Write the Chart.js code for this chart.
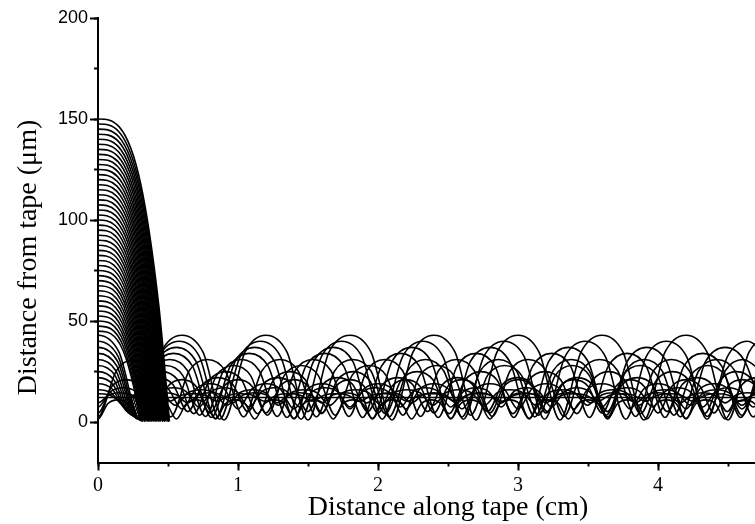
<!DOCTYPE html>
<html><head><meta charset="utf-8">
<script src="https://cdn.jsdelivr.net/npm/chart.js@4.4.1/dist/chart.umd.min.js"></script>
<style>
html,body{margin:0;padding:0;background:#fff;overflow:hidden;width:755px;height:524px}
#wrap{position:absolute;left:0;top:0;width:810px;height:524px}
</style>
</head><body><div id="wrap"><canvas id="c" width="810" height="524"></canvas></div>
<script>
// ---------- text ----------
const xTitle = 'Distance along tape (cm)';
const yTitle = 'Distance from tape (\u03bcm)';
const xTickValues = [0, 1, 2, 3, 4];
const yTickValues = [0, 50, 100, 150, 200];

// ---------- lost trajectories (fall onto the tape before 0.52 cm) ----------
const lostX = [
[-0.09,0,0.09,0.18,0.255,0.3],
[-0.092,0,0.092,0.183,0.259,0.305],
[-0.093,0,0.093,0.186,0.264,0.31],
[-0.095,0,0.095,0.189,0.268,0.315],
[-0.096,0,0.096,0.192,0.272,0.32],
[-0.098,0,0.098,0.195,0.276,0.325],
[-0.099,0,0.099,0.198,0.281,0.33],
[-0.101,0,0.101,0.201,0.285,0.335],
[-0.102,0,0.102,0.204,0.289,0.34],
[-0.104,0,0.104,0.207,0.293,0.345],
[-0.105,0,0.105,0.21,0.298,0.35],
[-0.107,0,0.107,0.213,0.302,0.355],
[-0.108,0,0.108,0.216,0.306,0.36],
[-0.11,0,0.11,0.219,0.31,0.365],
[-0.111,0,0.111,0.222,0.315,0.37],
[-0.113,0,0.113,0.225,0.319,0.375],
[-0.114,0,0.114,0.228,0.323,0.38],
[-0.116,0,0.116,0.231,0.327,0.385],
[-0.117,0,0.117,0.234,0.332,0.39],
[-0.119,0,0.119,0.237,0.336,0.395],
[-0.12,0,0.12,0.24,0.34,0.4],
[-0.122,0,0.122,0.243,0.344,0.405],
[-0.123,0,0.123,0.246,0.349,0.41],
[-0.125,0,0.125,0.249,0.353,0.415],
[-0.126,0,0.126,0.252,0.357,0.42],
[-0.128,0,0.128,0.255,0.361,0.425],
[-0.129,0,0.129,0.258,0.366,0.43],
[-0.131,0,0.131,0.261,0.37,0.435],
[-0.132,0,0.132,0.264,0.374,0.44],
[-0.134,0,0.134,0.267,0.378,0.445],
[-0.135,0,0.135,0.27,0.383,0.45],
[-0.137,0,0.137,0.273,0.387,0.455],
[-0.138,0,0.138,0.276,0.391,0.46],
[-0.14,0,0.14,0.279,0.395,0.465],
[-0.141,0,0.141,0.282,0.4,0.47],
[-0.143,0,0.143,0.285,0.404,0.475],
[-0.144,0,0.144,0.288,0.408,0.48],
[-0.146,0,0.146,0.291,0.412,0.485],
[-0.147,0,0.147,0.294,0.417,0.49],
[-0.149,0,0.149,0.297,0.421,0.495],
[-0.15,0,0.15,0.3,0.425,0.5],
[-0.152,0,0.152,0.303,0.429,0.505],
[-0.153,0,0.153,0.306,0.434,0.51]
];
const lostY = [
[43.8,45,43.8,35.3,17.4,0.8],
[46.2,47.5,46.2,37.2,18.3,1.2],
[48.7,50,48.7,39.2,19.3,0.6],
[51.1,52.5,51.1,41.2,20.3,1],
[53.5,55,53.5,43.1,21.2,0.5],
[55.9,57.5,55.9,45.1,22.2,1.3],
[58.4,60,58.4,47,23.2,0.8],
[60.8,62.5,60.8,49,24.1,0.4],
[63.2,65,63.2,51,25.1,1.1],
[65.7,67.5,65.7,52.9,26.1,0.7],
[68.1,70,68.1,54.9,27,1.4],
[70.5,72.5,70.5,56.8,28,0.6],
[73,75,73,58.8,29,0.9],
[75.4,77.5,75.4,60.8,29.9,0.4],
[77.8,80,77.8,62.7,30.9,1.2],
[80.3,82.5,80.3,64.7,31.8,0.8],
[82.7,85,82.7,66.6,32.8,0.5],
[85.1,87.5,85.1,68.6,33.8,1.3],
[87.6,90,87.6,70.6,34.7,0.7],
[90,92.5,90,72.5,35.7,1],
[92.4,95,92.4,74.5,36.7,0.4],
[94.9,97.5,94.9,76.4,37.6,1.1],
[97.3,100,97.3,78.4,38.6,0.8],
[99.7,102.5,99.7,80.4,39.6,0.5],
[102.2,105,102.2,82.3,40.5,1.4],
[104.6,107.5,104.6,84.3,41.5,0.7],
[107,110,107,86.2,42.5,1],
[109.5,112.5,109.5,88.2,43.4,0.4],
[111.9,115,111.9,90.2,44.4,1.2],
[114.3,117.5,114.3,92.1,45.4,0.6],
[116.8,120,116.8,94.1,46.3,0.9],
[119.2,122.5,119.2,96,47.3,1.3],
[121.6,125,121.6,98,48.3,0.5],
[124.1,127.5,124.1,100,49.2,0.8],
[126.5,130,126.5,101.9,50.2,1.1],
[128.9,132.5,128.9,103.9,51.1,0.4],
[131.4,135,131.4,105.8,52.1,1],
[133.8,137.5,133.8,107.8,53.1,0.7],
[136.2,140,136.2,109.8,54,1.3],
[138.7,142.5,138.7,111.7,55,0.6],
[141.1,145,141.1,113.7,56,0.9],
[143.5,147.5,143.5,115.6,56.9,0.5],
[146,150,146,117.6,57.9,0.8]
];

// ---------- trapped trajectories starting at their upper turning point ----------
const trapX = [
[-0.15,0,0.15,0.3,0.45,0.6,0.75,0.9,1.05,1.2,1.35,1.5,1.65,1.8,1.95,2.1,2.25,2.4,2.55,2.7,2.85,3,3.15,3.3,3.45,3.6,3.75,3.9,4.05,4.2,4.35,4.5,4.65,4.8],
[-0.145,0,0.145,0.29,0.435,0.58,0.725,0.87,1.015,1.16,1.305,1.45,1.595,1.74,1.885,2.03,2.175,2.32,2.465,2.61,2.755,2.9,3.045,3.19,3.335,3.48,3.625,3.77,3.915,4.06,4.205,4.35,4.495,4.64,4.785],
[-0.14,0,0.14,0.28,0.42,0.56,0.7,0.84,0.98,1.12,1.26,1.4,1.54,1.68,1.82,1.96,2.1,2.24,2.38,2.52,2.66,2.8,2.94,3.08,3.22,3.36,3.5,3.64,3.78,3.92,4.06,4.2,4.34,4.48,4.62,4.76],
[-0.135,0,0.135,0.27,0.405,0.54,0.675,0.81,0.945,1.08,1.215,1.35,1.485,1.62,1.755,1.89,2.025,2.16,2.295,2.43,2.565,2.7,2.835,2.97,3.105,3.24,3.375,3.51,3.645,3.78,3.915,4.05,4.185,4.32,4.455,4.59,4.725],
[-0.128,0,0.128,0.256,0.384,0.512,0.64,0.768,0.896,1.024,1.152,1.28,1.408,1.536,1.664,1.792,1.92,2.048,2.176,2.304,2.432,2.56,2.688,2.816,2.944,3.072,3.2,3.328,3.456,3.584,3.712,3.84,3.968,4.096,4.224,4.352,4.48,4.608,4.736],
[-0.121,0,0.121,0.242,0.363,0.484,0.605,0.726,0.847,0.968,1.089,1.21,1.331,1.452,1.573,1.694,1.815,1.936,2.057,2.178,2.299,2.42,2.541,2.662,2.783,2.904,3.025,3.146,3.267,3.388,3.509,3.63,3.751,3.872,3.993,4.114,4.235,4.356,4.477,4.598,4.719],
[-0.114,0,0.114,0.228,0.342,0.456,0.57,0.684,0.798,0.912,1.026,1.14,1.254,1.368,1.482,1.596,1.71,1.824,1.938,2.052,2.166,2.28,2.394,2.508,2.622,2.736,2.85,2.964,3.078,3.192,3.306,3.42,3.534,3.648,3.762,3.876,3.99,4.104,4.218,4.332,4.446,4.56,4.674,4.788],
[-0.107,0,0.107,0.214,0.321,0.428,0.535,0.642,0.749,0.856,0.963,1.07,1.177,1.284,1.391,1.498,1.605,1.712,1.819,1.926,2.033,2.14,2.247,2.354,2.461,2.568,2.675,2.782,2.889,2.996,3.103,3.21,3.317,3.424,3.531,3.638,3.745,3.852,3.959,4.066,4.173,4.28,4.387,4.494,4.601,4.708,4.815],
[-0.1,0,0.1,0.2,0.3,0.4,0.5,0.6,0.7,0.8,0.9,1,1.1,1.2,1.3,1.4,1.5,1.6,1.7,1.8,1.9,2,2.1,2.2,2.3,2.4,2.5,2.6,2.7,2.8,2.9,3,3.1,3.2,3.3,3.4,3.5,3.6,3.7,3.8,3.9,4,4.1,4.2,4.3,4.4,4.5,4.6,4.7,4.8],
[-0.092,0,0.092,0.184,0.276,0.368,0.46,0.552,0.644,0.736,0.828,0.92,1.012,1.104,1.196,1.288,1.38,1.472,1.564,1.656,1.748,1.84,1.932,2.024,2.116,2.208,2.3,2.392,2.484,2.576,2.668,2.76,2.852,2.944,3.036,3.128,3.22,3.312,3.404,3.496,3.588,3.68,3.772,3.864,3.956,4.048,4.14,4.232,4.324,4.416,4.508,4.6,4.692,4.784],
[-0.085,0,0.085,0.17,0.255,0.34,0.425,0.51,0.595,0.68,0.765,0.85,0.935,1.02,1.105,1.19,1.275,1.36,1.445,1.53,1.615,1.7,1.785,1.87,1.955,2.04,2.125,2.21,2.295,2.38,2.465,2.55,2.635,2.72,2.805,2.89,2.975,3.06,3.145,3.23,3.315,3.4,3.485,3.57,3.655,3.74,3.825,3.91,3.995,4.08,4.165,4.25,4.335,4.42,4.505,4.59,4.675,4.76]
];
const trapY = [
[34.6, 43,34.6,1,34.6, 43,34.6,1,34.6, 43,34.6,1,34.6, 43,34.6,1,34.6, 43,34.6,1,34.6, 43,34.6,1,34.6, 43,34.6,1,34.6, 43,34.6,1,34.6, 43],
[32.3, 40,32.3,1.4,32.3, 40,32.3,1.4,32.3, 40,32.3,1.4,32.3, 40,32.3,1.4,32.3, 40,32.3,1.4,32.3, 40,32.3,1.4,32.3, 40,32.3,1.4,32.3, 40,32.3,1.4,32.3, 40,32.3],
[30, 37,30,1.8,30, 37,30,1.8,30, 37,30,1.8,30, 37,30,1.8,30, 37,30,1.8,30, 37,30,1.8,30, 37,30,1.8,30, 37,30,1.8,30, 37,30,1.8],
[27.7, 34,27.7,2.3,27.7, 34,27.7,2.3,27.7, 34,27.7,2.3,27.7, 34,27.7,2.3,27.7, 34,27.7,2.3,27.7, 34,27.7,2.3,27.7, 34,27.7,2.3,27.7, 34,27.7,2.3,27.7, 34,27.7,2.3,27.7],
[25.4, 31,25.4,2.8,25.4, 31,25.4,2.8,25.4, 31,25.4,2.8,25.4, 31,25.4,2.8,25.4, 31,25.4,2.8,25.4, 31,25.4,2.8,25.4, 31,25.4,2.8,25.4, 31,25.4,2.8,25.4, 31,25.4,2.8,25.4, 31,25.4],
[23.1, 28,23.1,3.4,23.1, 28,23.1,3.4,23.1, 28,23.1,3.4,23.1, 28,23.1,3.4,23.1, 28,23.1,3.4,23.1, 28,23.1,3.4,23.1, 28,23.1,3.4,23.1, 28,23.1,3.4,23.1, 28,23.1,3.4,23.1, 28,23.1,3.4,23.1],
[20.8, 25,20.8,4.2,20.8, 25,20.8,4.2,20.8, 25,20.8,4.2,20.8, 25,20.8,4.2,20.8, 25,20.8,4.2,20.8, 25,20.8,4.2,20.8, 25,20.8,4.2,20.8, 25,20.8,4.2,20.8, 25,20.8,4.2,20.8, 25,20.8,4.2,20.8, 25,20.8,4.2],
[18.6, 22,18.6,5.2,18.6, 22,18.6,5.2,18.6, 22,18.6,5.2,18.6, 22,18.6,5.2,18.6, 22,18.6,5.2,18.6, 22,18.6,5.2,18.6, 22,18.6,5.2,18.6, 22,18.6,5.2,18.6, 22,18.6,5.2,18.6, 22,18.6,5.2,18.6, 22,18.6,5.2,18.6, 22,18.6],
[16.5, 19,16.5,6.5,16.5, 19,16.5,6.5,16.5, 19,16.5,6.5,16.5, 19,16.5,6.5,16.5, 19,16.5,6.5,16.5, 19,16.5,6.5,16.5, 19,16.5,6.5,16.5, 19,16.5,6.5,16.5, 19,16.5,6.5,16.5, 19,16.5,6.5,16.5, 19,16.5,6.5,16.5, 19,16.5,6.5,16.5, 19],
[14.5, 16,14.5,8.3,14.5, 16,14.5,8.3,14.5, 16,14.5,8.3,14.5, 16,14.5,8.3,14.5, 16,14.5,8.3,14.5, 16,14.5,8.3,14.5, 16,14.5,8.3,14.5, 16,14.5,8.3,14.5, 16,14.5,8.3,14.5, 16,14.5,8.3,14.5, 16,14.5,8.3,14.5, 16,14.5,8.3,14.5, 16,14.5,8.3,14.5, 16],
[13.3, 14,13.3,10.3,13.3, 14,13.3,10.3,13.3, 14,13.3,10.3,13.3, 14,13.3,10.3,13.3, 14,13.3,10.3,13.3, 14,13.3,10.3,13.3, 14,13.3,10.3,13.3, 14,13.3,10.3,13.3, 14,13.3,10.3,13.3, 14,13.3,10.3,13.3, 14,13.3,10.3,13.3, 14,13.3,10.3,13.3, 14,13.3,10.3,13.3, 14,13.3,10.3,13.3, 14]
];

// ---------- trapped trajectories starting at their lower turning point ----------
const bounceX = [
[-0.07,0,0.07,0.14,0.21,0.28,0.35,0.42,0.49,0.56,0.63,0.7,0.77,0.84,0.91,0.98,1.05,1.12,1.19,1.26,1.33,1.4,1.47,1.54,1.61,1.68,1.75,1.82,1.89,1.96,2.03,2.1,2.17,2.24,2.31,2.38,2.45,2.52,2.59,2.66,2.73,2.8,2.87,2.94,3.01,3.08,3.15,3.22,3.29,3.36,3.43,3.5,3.57,3.64,3.71,3.78,3.85,3.92,3.99,4.06,4.13,4.2,4.27,4.34,4.41,4.48,4.55,4.62,4.69,4.76],
[-0.13,0,0.13,0.26,0.39,0.52,0.65,0.78,0.91,1.04,1.17,1.3,1.43,1.56,1.69,1.82,1.95,2.08,2.21,2.34,2.47,2.6,2.73,2.86,2.99,3.12,3.25,3.38,3.51,3.64,3.77,3.9,4.03,4.16,4.29,4.42,4.55,4.68,4.81],
[-0.1,0,0.1,0.2,0.3,0.4,0.5,0.6,0.7,0.8,0.9,1,1.1,1.2,1.3,1.4,1.5,1.6,1.7,1.8,1.9,2,2.1,2.2,2.3,2.4,2.5,2.6,2.7,2.8,2.9,3,3.1,3.2,3.3,3.4,3.5,3.6,3.7,3.8,3.9,4,4.1,4.2,4.3,4.4,4.5,4.6,4.7,4.8],
[-0.09,0,0.09,0.18,0.27,0.36,0.45,0.54,0.63,0.72,0.81,0.9,0.99,1.08,1.17,1.26,1.35,1.44,1.53,1.62,1.71,1.8,1.89,1.98,2.07,2.16,2.25,2.34,2.43,2.52,2.61,2.7,2.79,2.88,2.97,3.06,3.15,3.24,3.33,3.42,3.51,3.6,3.69,3.78,3.87,3.96,4.05,4.14,4.23,4.32,4.41,4.5,4.59,4.68,4.77],
[-0.08,0,0.08,0.16,0.24,0.32,0.4,0.48,0.56,0.64,0.72,0.8,0.88,0.96,1.04,1.12,1.2,1.28,1.36,1.44,1.52,1.6,1.68,1.76,1.84,1.92,2,2.08,2.16,2.24,2.32,2.4,2.48,2.56,2.64,2.72,2.8,2.88,2.96,3.04,3.12,3.2,3.28,3.36,3.44,3.52,3.6,3.68,3.76,3.84,3.92,4,4.08,4.16,4.24,4.32,4.4,4.48,4.56,4.64,4.72,4.8]
];
const bounceY = [
[9.1, 1.5,9.1,11,9.1, 1.5,9.1,11,9.1, 1.5,9.1,11,9.1, 1.5,9.1,11,9.1, 1.5,9.1,11,9.1, 1.5,9.1,11,9.1, 1.5,9.1,11,9.1, 1.5,9.1,11,9.1, 1.5,9.1,11,9.1, 1.5,9.1,11,9.1, 1.5,9.1,11,9.1, 1.5,9.1,11,9.1, 1.5,9.1,11,9.1, 1.5,9.1,11,9.1, 1.5,9.1,11,9.1, 1.5,9.1,11,9.1, 1.5,9.1,11,9.1, 1.5],
[25.3, 2.6,25.3,31,25.3, 2.6,25.3,31,25.3, 2.6,25.3,31,25.3, 2.6,25.3,31,25.3, 2.6,25.3,31,25.3, 2.6,25.3,31,25.3, 2.6,25.3,31,25.3, 2.6,25.3,31,25.3, 2.6,25.3,31,25.3, 2.6,25.3],
[17.7, 4.5,17.7,21,17.7, 4.5,17.7,21,17.7, 4.5,17.7,21,17.7, 4.5,17.7,21,17.7, 4.5,17.7,21,17.7, 4.5,17.7,21,17.7, 4.5,17.7,21,17.7, 4.5,17.7,21,17.7, 4.5,17.7,21,17.7, 4.5,17.7,21,17.7, 4.5,17.7,21,17.7, 4.5,17.7,21,17.7, 4.5],
[15.1, 7.5,15.1,17,15.1, 7.5,15.1,17,15.1, 7.5,15.1,17,15.1, 7.5,15.1,17,15.1, 7.5,15.1,17,15.1, 7.5,15.1,17,15.1, 7.5,15.1,17,15.1, 7.5,15.1,17,15.1, 7.5,15.1,17,15.1, 7.5,15.1,17,15.1, 7.5,15.1,17,15.1, 7.5,15.1,17,15.1, 7.5,15.1,17,15.1, 7.5,15.1],
[13.5, 9.5,13.5,14.5,13.5, 9.5,13.5,14.5,13.5, 9.5,13.5,14.5,13.5, 9.5,13.5,14.5,13.5, 9.5,13.5,14.5,13.5, 9.5,13.5,14.5,13.5, 9.5,13.5,14.5,13.5, 9.5,13.5,14.5,13.5, 9.5,13.5,14.5,13.5, 9.5,13.5,14.5,13.5, 9.5,13.5,14.5,13.5, 9.5,13.5,14.5,13.5, 9.5,13.5,14.5,13.5, 9.5,13.5,14.5,13.5, 9.5,13.5,14.5,13.5, 9.5]
];

// ---------- trajectory resting at the field minimum ----------
const restX = [0, 4.8];
const restY = [12.2, 12.2];

// ---------- build datasets ----------
const datasets = [];
function addSet(xs, ys) {
  const n = Math.min(xs.length, ys.length);
  const pts = [];
  for (let i = 0; i < n; i++) pts.push({x: xs[i], y: ys[i]});
  datasets.push({
    data: pts, showLine: true, borderColor: '#000', backgroundColor: '#000',
    borderWidth: 1.6, pointRadius: 0, pointHoverRadius: 0, fill: false,
    cubicInterpolationMode: 'monotone', borderJoinStyle: 'round', borderCapStyle: 'round'
  });
}
lostX.forEach((xs, i) => addSet(xs, lostY[i]));
trapX.forEach((xs, i) => addSet(xs, trapY[i]));
bounceX.forEach((xs, i) => addSet(xs, bounceY[i]));
addSet(restX, restY);

const yTitlePlugin = {
  id: 'yTitle',
  afterDraw(chart) {
    const ctx = chart.ctx;
    ctx.save();
    ctx.translate(29, 257.5);
    ctx.rotate(-Math.PI / 2);
    ctx.font = '28px "Liberation Serif"';
    ctx.fillStyle = '#000';
    ctx.textAlign = 'center';
    ctx.textBaseline = 'middle';
    ctx.fillText(yTitle, 0, 0);
    ctx.restore();
  }
};

new Chart(document.getElementById('c'), {
  type: 'scatter',
  data: {datasets},
  plugins: [yTitlePlugin],
  options: {
    responsive: false, animation: false, events: [],
    layout: {padding: {left: 0, top: 18, right: 12, bottom: 0}},
    plugins: {legend: {display: false}, tooltip: {enabled: false}, colors: {enabled: false}},
    scales: {
      x: {
        type: 'linear', position: 'bottom', weight: 1, min: 0, max: 5,
        afterBuildTicks: s => { s.ticks = xTickValues.map(v => ({value: v})); },
        ticks: {stepSize: 1, includeBounds: false, autoSkip: false, maxRotation: 0, padding: 3,
                color: '#000', font: {family: '"Liberation Serif"', size: 20}},
        grid: {drawOnChartArea: false, tickLength: 8, tickWidth: 2, tickColor: '#000'},
        border: {display: true, color: '#000', width: 2},
        title: {display: true, text: xTitle, color: '#000', padding: {top: 0, bottom: 0},
                font: {family: '"Liberation Serif"', size: 28}},
        afterFit: s => { s.height = 61.5; }
      },
      x2: {
        type: 'linear', position: 'bottom', weight: 0, min: 0, max: 5,
        ticks: {stepSize: 0.5, display: false},
        grid: {drawOnChartArea: false, tickLength: 4, tickWidth: 2, tickColor: '#000'},
        border: {display: false},
        afterFit: s => { s.height = 0; }
      },
      y: {
        type: 'linear', position: 'left', weight: 1, min: -20, max: 200,
        afterBuildTicks: s => { s.ticks = yTickValues.map(v => ({value: v})); },
        ticks: {stepSize: 50, includeBounds: false, padding: 2, color: '#000',
                font: {family: '"Liberation Sans"', size: 18}},
        grid: {drawOnChartArea: false, tickLength: 8, tickWidth: 2, tickColor: '#000'},
        border: {display: true, color: '#000', width: 2},
        afterFit: s => { s.width = 98; }
      },
      y2: {
        type: 'linear', position: 'left', weight: 0, min: -20, max: 200,
        ticks: {stepSize: 25, includeBounds: false, display: false},
        grid: {drawOnChartArea: false, tickLength: 4, tickWidth: 2, tickColor: '#000'},
        border: {display: false},
        afterFit: s => { s.width = 0; }
      }
    }
  }
});
</script>
</body></html>
